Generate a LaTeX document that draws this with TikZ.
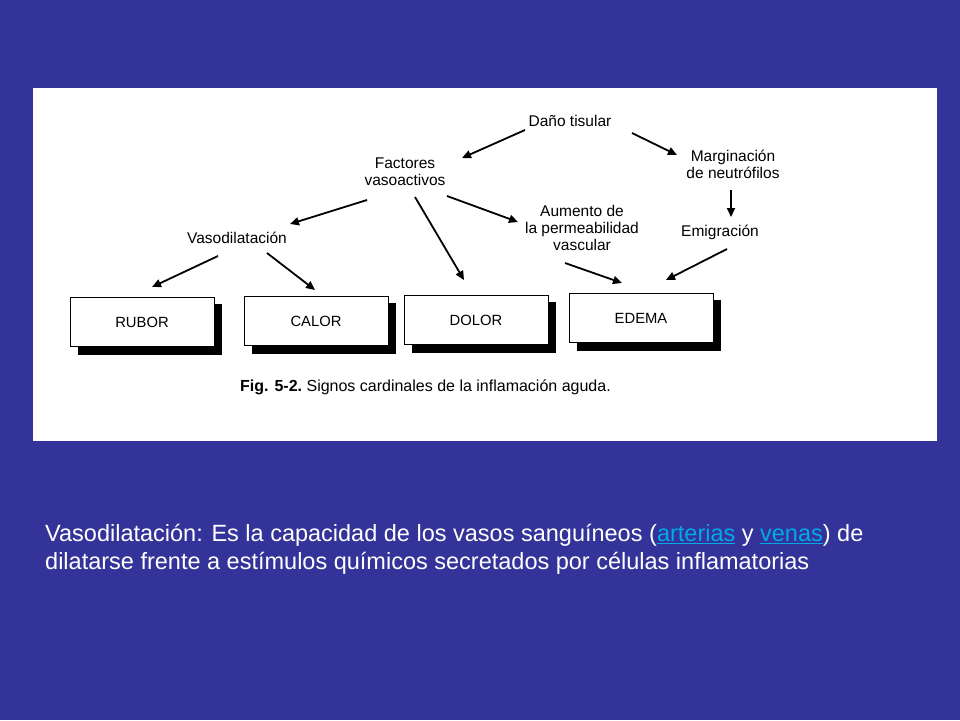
\documentclass[tikz,border=0pt]{standalone}
\usepackage{fontspec}
\setmainfont{Liberation Sans}
\usetikzlibrary{arrows.meta}
\definecolor{bg}{RGB}{51,51,153}
\definecolor{lnk}{RGB}{0,170,230}
\begin{document}
\begin{tikzpicture}[x=1pt,y=-1pt,
  lbl/.style={font=\fontsize{15.5}{17}\selectfont,align=center,inner sep=0pt},
  arr/.style={line width=1.8pt,-{Triangle[length=9pt,width=8pt]}},
  sign/.style={draw=black,line width=0.8pt,fill=white,minimum width=144pt,minimum height=49pt,inner sep=0pt,font=\fontsize{14.8}{16}\selectfont}]
\fill[bg] (0,0) rectangle (960,720);
\fill[white] (33,88) rectangle (937,441);
\node[lbl] (dano) at (570,121) {Daño tisular};
\node[lbl] (fact) at (405,172) {Factores\\vasoactivos};
\node[lbl] (marg) at (733,164) {Marginación\\de neutrófilos};
\node[lbl] (vaso) at (237,238) {Vasodilatación};
\node[lbl] (aum) at (582,228) {Aumento de\\la permeabilidad\\vascular};
\node[lbl] (emig) at (720,232) {Emigración};
\foreach \n/\x/\y/\t in {rub/142/322/RUBOR,cal/316/321/CALOR,dol/476/320/DOLOR,ede/641/318/EDEMA}{
  \fill[black] (\x-64,\y-18) rectangle (\x+80,\y+33);
  \node[sign] (\n) at (\x,\y) {\t};
}
\coordinate (a1) at (525,130); \coordinate (b1) at (462,158);
\coordinate (a2) at (632,133); \coordinate (b2) at (677,155);
\coordinate (a3) at (731,190); \coordinate (b3) at (731,217);
\coordinate (a4) at (367,200); \coordinate (b4) at (290,224);
\coordinate (a5) at (415,197); \coordinate (b5) at (464,280);
\coordinate (a6) at (447,196); \coordinate (b6) at (518,222);
\coordinate (a7) at (218,256); \coordinate (b7) at (152,287);
\coordinate (a8) at (267,253); \coordinate (b8) at (315,290);
\coordinate (a9) at (565,263); \coordinate (b9) at (622,283);
\coordinate (a10) at (727,249); \coordinate (b10) at (666,280);
\foreach \i in {1,...,10}{\draw[arr] (a\i) -- (b\i);}
\node[anchor=west,inner sep=0pt,font=\bfseries\fontsize{16}{18}\selectfont] (cap) at (240,387) {Fig. 5-2.\ \mdseries Signos cardinales de la inflamación aguda.};
\node[anchor=north west,inner sep=0pt,align=left,text=white,font=\fontsize{23.5}{28}\selectfont] (txt) at (45,524) {Vasodilatación: Es la capacidad de los vasos sanguíneos (\textcolor{lnk}{\underline{arterias}} y \textcolor{lnk}{\underline{venas}}) de\\dilatarse frente a estímulos químicos secretados por células inflamatorias};
\end{tikzpicture}
\end{document}
